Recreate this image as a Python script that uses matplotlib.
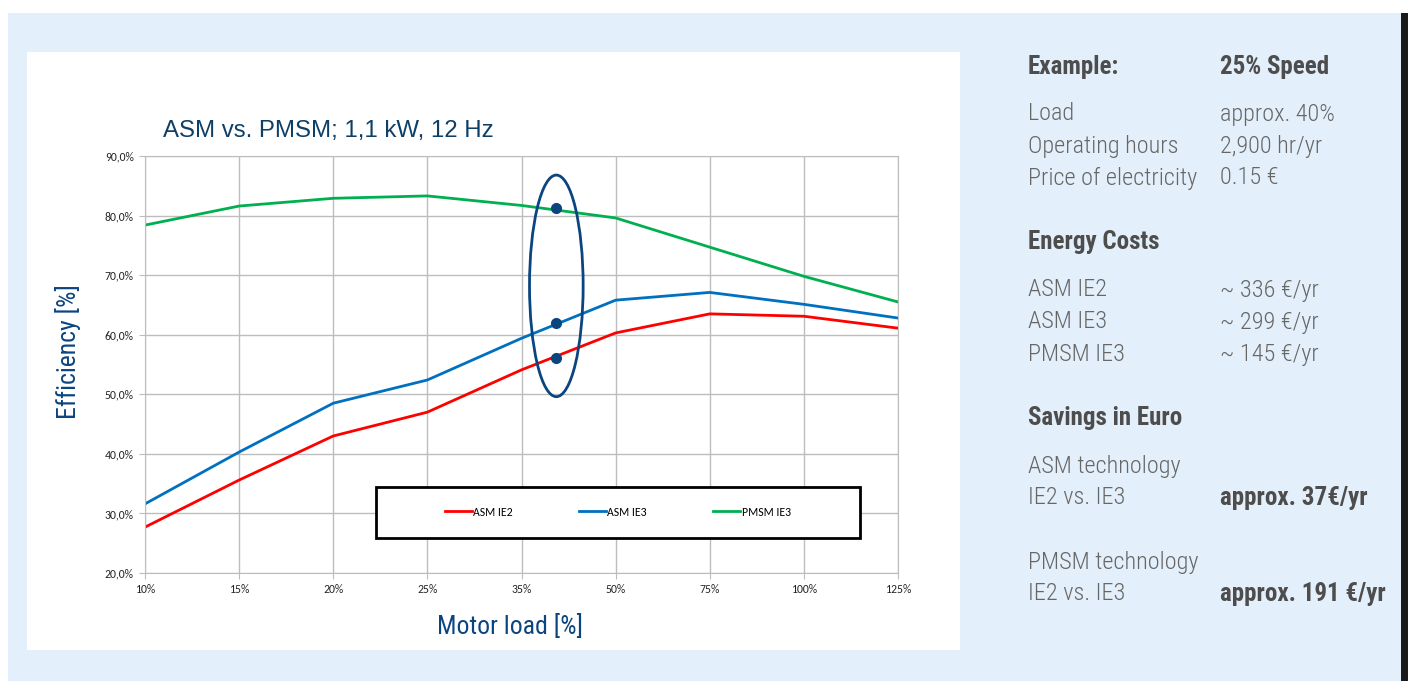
import matplotlib
matplotlib.use("Agg")
import matplotlib.pyplot as plt
from matplotlib.patches import Rectangle, Ellipse
import numpy as np

# data
loads = ['10%', '15%', '20%', '25%', '35%', '50%', '75%', '100%', '125%']
asm_ie2 = [27.7, 35.6, 43.0, 47.0, 54.1, 60.3, 63.5, 63.1, 61.1]
asm_ie3 = [31.6, 40.3, 48.5, 52.4, 59.4, 65.8, 67.1, 65.1, 62.8]
pmsm_ie3 = [78.4, 81.6, 82.9, 83.3, 81.7, 79.6, 74.7, 69.8, 65.5]
yticks = [20, 30, 40, 50, 60, 70, 80, 90]

# marked operating point (approx. 40% load)
op_x = 4.37
op_values = [81.2, 61.9, 56.1]

# side panel text: label, value, header?, y (px)
side_rows = [
    ('Example:', '25% Speed', True, 67),
    ('Load', 'approx. 40%', False, 114),
    ('Operating hours', '2,900 hr/yr', False, 146),
    ('Price of electricity', '0.15 €', False, 178),
    ('Energy Costs', '', True, 242),
    ('ASM IE2', '~ 336 €/yr', False, 290),
    ('ASM IE3', '~ 299 €/yr', False, 322),
    ('PMSM IE3', '~ 145 €/yr', False, 354),
    ('Savings in Euro', '', True, 418),
    ('ASM technology', '', False, 466),
    ('IE2 vs. IE3', 'approx. 37€/yr', False, 498),
    ('PMSM technology', '', False, 562),
    ('IE2 vs. IE3', 'approx. 191 €/yr', False, 594),
]
bold_values = {'approx. 37€/yr', 'approx. 191 €/yr', '25% Speed'}

W, H = 1408, 681
narrow = ['Roboto Condensed', 'Liberation Sans Narrow', 'DejaVu Sans']
calibri = ['Carlito', 'Liberation Sans Narrow', 'DejaVu Sans']
navy = '#0B4580'

fig = plt.figure(figsize=(W / 100, H / 100), dpi=100)
fig.patch.set_facecolor('white')

def px_rect(x0, y0, x1, y1, color):
    fig.patches.append(Rectangle((x0 / W, 1 - y1 / H), (x1 - x0) / W, (y1 - y0) / H,
                                 transform=fig.transFigure, facecolor=color,
                                 edgecolor='none', zorder=-5))

px_rect(8, 13, 1401, 681, '#E3EFFA')
px_rect(1401, 13, 1408, 681, '#1a1a1a')
px_rect(27, 52, 960, 650, 'white')

ax = fig.add_axes([145 / W, 1 - 573 / H, 753 / W, 417 / H])
ax.set_zorder(2)
ax.set_facecolor('none')
x = np.arange(len(loads))
ax.plot(x, asm_ie2, color='#FF0000', lw=2, label='ASM IE2')
ax.plot(x, asm_ie3, color='#0070C0', lw=2, label='ASM IE3')
ax.plot(x, pmsm_ie3, color='#00B050', lw=2, label='PMSM IE3')

ax.set_xlim(0, len(loads) - 1)
ax.set_ylim(20, 90)
ax.set_xticks(x)
ax.set_xticklabels(loads, family=calibri, fontsize=8.5)
ax.set_yticks(yticks)
ax.set_yticklabels([f'{v:.1f}%'.replace('.', ',') for v in yticks], family=calibri, fontsize=8.5)
ax.grid(True, color='#BDBDBD', lw=1)
ax.set_axisbelow(True)
for s in ax.spines.values():
    s.set_color('#BDBDBD')
ax.tick_params(colors='#BDBDBD', labelcolor='#262626', length=4, pad=4)

# operating point marker
ax.add_patch(Ellipse((op_x, 68.2), 0.57, 37.2, fill=False, edgecolor=navy, lw=2, zorder=5))
ax.plot([op_x] * len(op_values), op_values, 'o', color=navy, ms=7, zorder=6)

# legend box
ax.add_patch(Rectangle((0.307, 0.084), 0.643, 0.122, transform=ax.transAxes,
                       facecolor='white', edgecolor='black', lw=2, zorder=7))
leg = ax.legend(loc='center', bbox_to_anchor=(0.628, 0.146), ncol=3, frameon=False,
                prop={'family': calibri, 'size': 8.5}, handlelength=2.3, handletextpad=0.1,
                columnspacing=5.6)
leg.set_zorder(8)

fig.text(163 / W, 1 - 131 / H, 'ASM vs. PMSM; 1,1 kW, 12 Hz', fontsize=17.3,
         color='#0E3F66', va='center', ha='left', family=['Liberation Sans', 'DejaVu Sans'])
fig.text(510 / W, 1 - 627 / H, 'Motor load [%]', fontsize=18.5, color=navy,
         ha='center', va='center', family=narrow)
fig.text(68 / W, 1 - 352 / H, 'Efficiency [%]', fontsize=18.5, color=navy,
         ha='center', va='center', rotation=90, family=narrow)

for label, value, bold, y in side_rows:
    fig.text(1028 / W, 1 - y / H, label, fontsize=18 if bold else 17.5,
             color='#4d4d4d' if bold else '#666666',
             weight='bold' if bold else 'light', va='center', family=narrow)
    if value:
        vb = value in bold_values
        fig.text(1220 / W, 1 - y / H, value, fontsize=18 if vb else 17.5,
                 color='#4d4d4d' if vb else '#666666',
                 weight='bold' if vb else 'light', va='center', family=narrow)

fig.savefig('out.png', dpi=100)
